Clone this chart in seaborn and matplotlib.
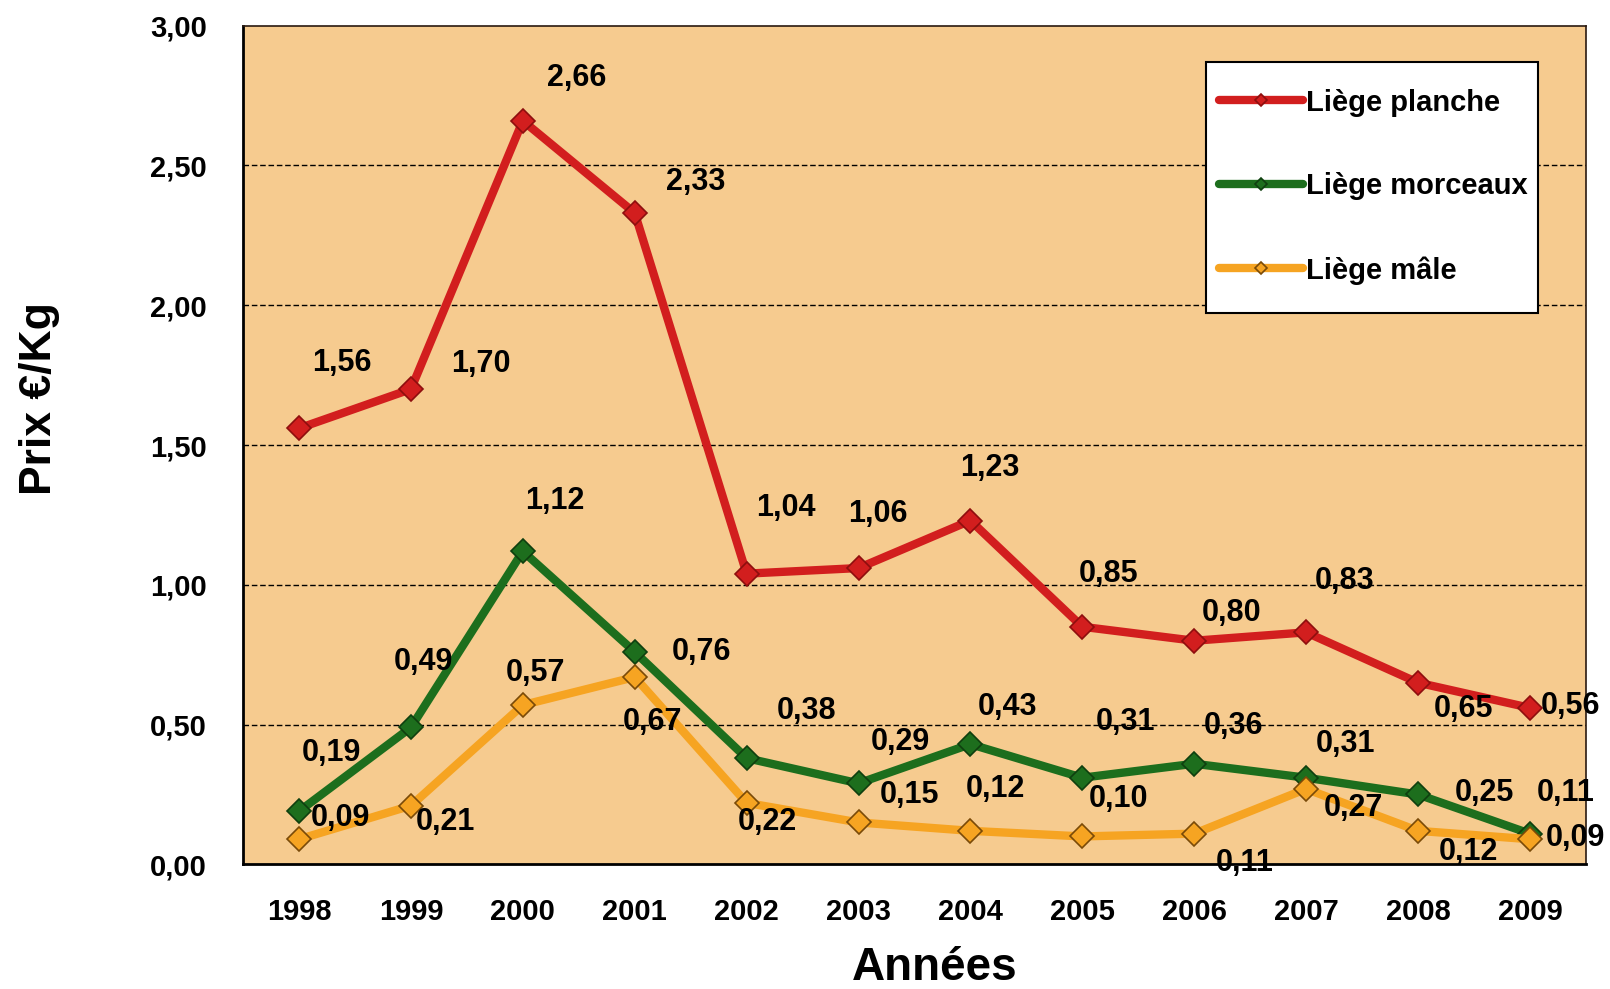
import pandas as pd
import matplotlib.pyplot as plt
import seaborn as sns

# ================================
# Données (prix du liège, €/Kg)
# ================================
annees = ["1998", "1999", "2000", "2001", "2002", "2003",
          "2004", "2005", "2006", "2007", "2008", "2009"]
liege_planche = [1.56, 1.70, 2.66, 2.33, 1.04, 1.06, 1.23, 0.85, 0.80, 0.83, 0.65, 0.56]
liege_morceaux = [0.19, 0.49, 1.12, 0.76, 0.38, 0.29, 0.43, 0.31, 0.36, 0.31, 0.25, 0.11]
liege_male = [0.09, 0.21, 0.57, 0.67, 0.22, 0.15, 0.12, 0.10, 0.11, 0.27, 0.12, 0.09]

# décalage des étiquettes (points) - comme dans le graphique Excel d'origine
off_planche = [(31, 47), (50, 18), (39, 31), (44, 22), (28, 47), (14, 39),
               (14, 38), (19, 38), (27, 20), (28, 37), (33, -19), (29, 1)]
off_morceaux = [(23, 42), (9, 47), (23, 36), (48, 0), (43, 34), (30, 30),
                (27, 27), (31, 40), (28, 27), (28, 24), (48, 1), (26, 29)]
off_male = [(30, 15), (25, -12), (9, 23), (13, -32), (15, -14), (37, 20),
            (18, 30), (26, 27), (36, -21), (34, -14), (36, -15), (33, 1)]

df = pd.DataFrame({
    "annee": annees,
    "pos": range(len(annees)),
    "planche": liege_planche,
    "morceaux": liege_morceaux,
    "male": liege_male,
})

sns.set_style("white")
plt.rcParams["font.family"] = ["Liberation Sans", "DejaVu Sans"]
plt.rcParams["font.weight"] = "bold"
plt.rcParams["text.color"] = "black"
plt.rcParams["axes.labelcolor"] = "black"
plt.rcParams["xtick.color"] = "black"
plt.rcParams["ytick.color"] = "black"

fig = plt.figure(figsize=(16.1, 9.89), dpi=100)
ax = fig.add_axes([0.151, 0.126, 0.834, 0.848])
ax.set_facecolor("#F6CB8F")

series = [
    ("planche", "Liège planche", "#D21E1E", "#8E0E0E", off_planche),
    ("morceaux", "Liège morceaux", "#1D6E1D", "#0F3F0F", off_morceaux),
    ("male", "Liège mâle", "#F6A422", "#7A4A08", off_male),
]

for col, lab, c, ec, offs in series:
    sns.lineplot(data=df, x="pos", y=col, ax=ax, color=c, lw=6, label=lab,
                 marker="D", markersize=12, markerfacecolor=c,
                 markeredgecolor=ec, markeredgewidth=1.2, zorder=3)
    for x, v, (dx, dy) in zip(df["pos"], df[col], offs):
        ax.annotate(f"{v:.2f}".replace(".", ","), (x, v), xytext=(dx, dy),
                    textcoords="offset points", ha="center", va="center",
                    fontsize=22, fontweight="bold", color="black", zorder=4)

ax.set_xlim(-0.5, 11.5)
ax.set_ylim(0, 3)
ax.set_yticks([0, 0.5, 1, 1.5, 2, 2.5, 3])
ax.set_yticklabels([f"{t:.2f}".replace(".", ",") for t in ax.get_yticks()])
for t in ax.get_yticklabels():
    t.set_fontweight("bold")
    t.set_fontsize(21)
ax.set_xticks(range(len(annees)))
ax.set_xticklabels(annees)
for t in ax.get_xticklabels():
    t.set_fontweight("bold")
    t.set_fontsize(21)
ax.set_xticks([i - 0.5 for i in range(len(annees) + 1)], minor=True)
ax.tick_params(axis="x", which="major", length=0, pad=24)
ax.tick_params(axis="x", which="minor", length=10, width=1.5, direction="out", color="black")
ax.tick_params(axis="y", length=10, width=1.5, direction="out", color="black", pad=16)

for y in [0.5, 1, 1.5, 2, 2.5]:
    ax.axhline(y, color="black", lw=1, ls=(0, (4, 2)), zorder=1)

for s in ["top", "right"]:
    ax.spines[s].set_color("#2a1a10")
    ax.spines[s].set_linewidth(1.2)
for s in ["left", "bottom"]:
    ax.spines[s].set_color("black")
    ax.spines[s].set_linewidth(2)

ax.set_xlabel("Années", fontsize=33, fontweight="bold", va="center")
ax.xaxis.set_label_coords(0.515, -0.124)
ax.set_ylabel("Prix €/Kg", fontsize=32, fontweight="bold", va="center")
ax.yaxis.set_label_coords(-0.152, 0.556)

# cadre blanc de la légende
ax.add_patch(plt.Rectangle((0.717, 0.6575), 0.247, 0.2995, transform=ax.transAxes,
                           facecolor="white", edgecolor="black", lw=1.5, zorder=5))
leg = ax.legend(loc="upper left", bbox_to_anchor=(0.7267, 0.925), frameon=False,
                fontsize=21, labelspacing=1.91, borderpad=0, borderaxespad=0,
                handlelength=2.9, handletextpad=0.1, markerscale=0.5)
leg.set_zorder(6)
for t in leg.get_texts():
    t.set_fontweight("bold")

fig.savefig("out.png", dpi=100)
